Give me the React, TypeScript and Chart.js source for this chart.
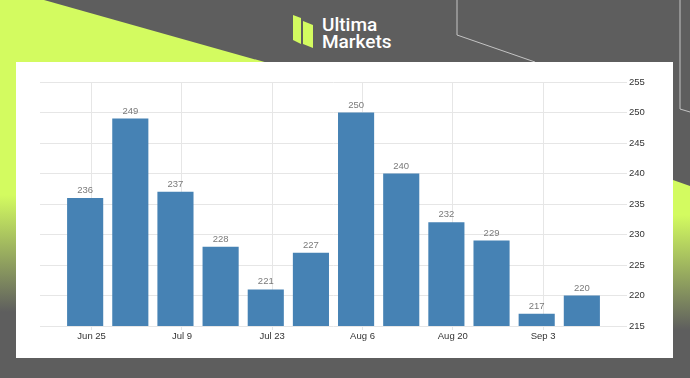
import React, { useEffect, useRef } from "react";
import { Chart, registerables } from "chart.js";

Chart.register(...registerables);

// ---- data ----
const weekDates = [
  "2024-06-24", "2024-07-01", "2024-07-08", "2024-07-15", "2024-07-22", "2024-07-29",
  "2024-08-05", "2024-08-12", "2024-08-19", "2024-08-26", "2024-09-02", "2024-09-09",
];
const claims = [236, 249, 237, 228, 221, 227, 250, 240, 232, 229, 217, 220];
const tickDates = ["2024-06-25", "2024-07-09", "2024-07-23", "2024-08-06", "2024-08-20", "2024-09-03"];
const tickLabels = ["Jun 25", "Jul 9", "Jul 23", "Aug 6", "Aug 20", "Sep 3"];
const yMin = 215;
const yMax = 255;
const yStep = 5;

const GREEN = "#d3fb60";
const GRAY = "#5e5e5e";
const BAR = "#4682b4";

const dayNum = (s: string) => Math.round(Date.parse(s + "T00:00:00Z") / 86400000);

const valueLabels = {
  id: "valueLabels",
  afterDatasetsDraw(chart: any) {
    const ctx = chart.ctx;
    const meta = chart.getDatasetMeta(0);
    ctx.save();
    ctx.font = "9.5px 'Liberation Sans', Arial, sans-serif";
    ctx.fillStyle = "#7a7a7a";
    ctx.textAlign = "center";
    ctx.textBaseline = "alphabetic";
    meta.data.forEach((bar: any, i: number) => {
      ctx.fillText(String(claims[i]), bar.x, bar.y - 5);
    });
    ctx.restore();
  },
};

function BarChart() {
  const ref = useRef<HTMLCanvasElement | null>(null);
  useEffect(() => {
    if (!ref.current) return;
    const days = weekDates.map(dayNum);
    const tickDays = tickDates.map(dayNum);
    const chart = new Chart(ref.current, {
      type: "bar",
      data: {
        datasets: [
          {
            data: days.map((d, i) => ({ x: d, y: claims[i] })),
            backgroundColor: BAR,
            borderWidth: 0,
            barPercentage: 0.8,
            categoryPercentage: 1,
          },
        ],
      },
      options: {
        responsive: false,
        animation: false,
        layout: { padding: { left: 24, top: 20, right: 0, bottom: 0 } },
        plugins: { legend: { display: false }, tooltip: { enabled: false } },
        scales: {
          x: {
            type: "linear",
            min: days[0] - 7,
            max: days[days.length - 1] + 7,
            offset: false,
            afterBuildTicks(scale: any) {
              scale.ticks = tickDays.map((v) => ({ value: v }));
            },
            afterFit(scale: any) {
              scale.height = 32;
            },
            grid: { color: "#e6e6e6", tickLength: 4, drawTicks: true, offset: false },
            border: { display: false },
            ticks: {
              padding: 1,
              color: "#333333",
              font: { size: 9.5, family: "'Liberation Sans', Arial, sans-serif" },
              maxRotation: 0,
              autoSkip: false,
              callback(value: any) {
                const idx = tickDays.indexOf(Number(value));
                return idx >= 0 ? tickLabels[idx] : "";
              },
            },
          },
          y: {
            position: "right",
            min: yMin,
            max: yMax,
            afterFit(scale: any) {
              scale.width = 46;
            },
            grid: { color: "#e6e6e6", drawTicks: false },
            border: { display: false },
            ticks: {
              stepSize: yStep,
              padding: 2,
              color: "#333333",
              font: { size: 9.5, family: "'Liberation Sans', Arial, sans-serif" },
            },
          },
        },
      },
      plugins: [valueLabels],
    } as any);
    return () => chart.destroy();
  }, []);
  return <canvas ref={ref} width={657} height={296} style={{ display: "block" }} />;
}

export default function App() {
  return (
    <div
      style={{
        position: "fixed",
        left: 0,
        top: 0,
        width: 690,
        height: 378,
        overflow: "hidden",
        background: GRAY,
      }}
    >
      <svg width={690} height={378} style={{ position: "absolute", left: 0, top: 0 }}>
        <defs>
          <linearGradient id="gl" x1="0" y1="0" x2="0" y2="378" gradientUnits="userSpaceOnUse">
            <stop offset={195 / 378} stopColor={GREEN} />
            <stop offset={312 / 378} stopColor={GRAY} />
          </linearGradient>
          <linearGradient id="gr" x1="0" y1="0" x2="0" y2="378" gradientUnits="userSpaceOnUse">
            <stop offset={215 / 378} stopColor={GREEN} />
            <stop offset={330 / 378} stopColor={GRAY} />
          </linearGradient>
        </defs>
        <rect x={0} y={0} width={690} height={378} fill={GRAY} />
        <polygon points="0,0 44,0 300,72 300,378 0,378" fill="url(#gl)" />
        <polygon points="673,180 690,186 690,378 673,378" fill="url(#gr)" />
        <polyline points="457,0 457,35 535,62" stroke="#c4c4c4" strokeWidth={1} fill="none" />
        <polyline points="680,0 680,109 690,112" stroke="#c4c4c4" strokeWidth={1} fill="none" />
        <polygon points="293,15 301,18 301,44 293,40" fill={GREEN} />
        <polygon points="303,21 313,25 313,48 303,44" fill={GREEN} />
        <text x={322} y={31} fill="#ffffff" fontFamily="Roboto, sans-serif" fontWeight={500} fontSize={19}>
          Ultima
        </text>
        <text x={322} y={48} fill="#ffffff" fontFamily="Roboto, sans-serif" fontWeight={500} fontSize={19}>
          Markets
        </text>
      </svg>
      <div
        style={{
          position: "absolute",
          left: 16,
          top: 62,
          width: 657,
          height: 296,
          background: "#ffffff",
        }}
      >
        <BarChart />
      </div>
    </div>
  );
}
